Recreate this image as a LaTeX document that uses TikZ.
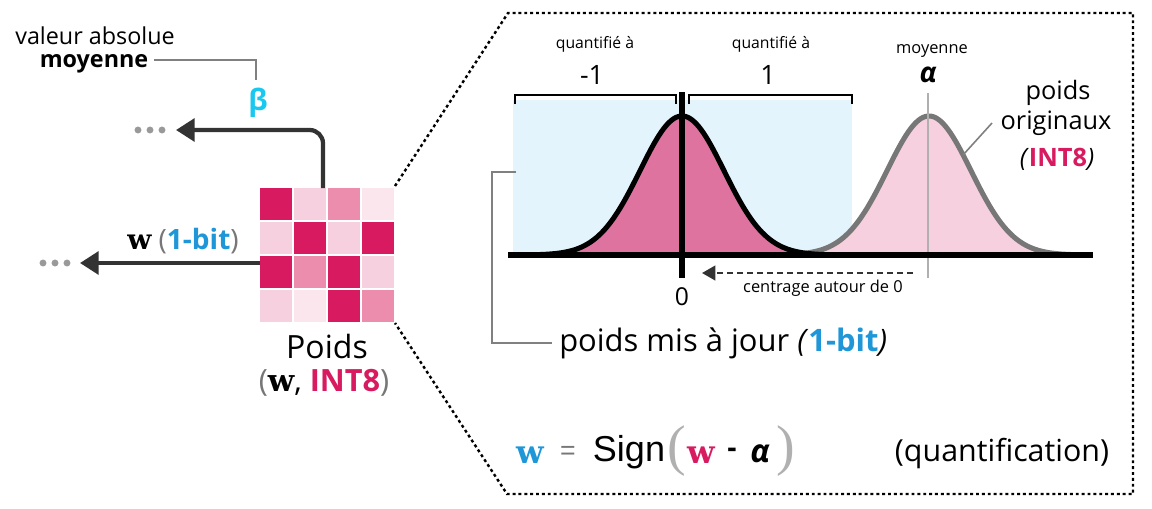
\documentclass[tikz,border=0pt]{standalone}
\usepackage[no-math]{fontspec}
\setmainfont{Open Sans}
\newfontfamily\formfont{Liberation Sans}
\newfontfamily\wfont{DejaVu Serif}
\newfontfamily\parfont{Liberation Serif}
\usetikzlibrary{arrows.meta}
\definecolor{dpink}{HTML}{D81B60}
\definecolor{mpink}{HTML}{EC8DAE}
\definecolor{lpink}{HTML}{F7D0DF}
\definecolor{vlpink}{HTML}{FCE6EE}
\definecolor{gpink}{HTML}{DF73A0}
\definecolor{lblue}{HTML}{E3F4FC}
\definecolor{bitblue}{HTML}{1E96D8}
\definecolor{betacyan}{HTML}{19C8F0}
\definecolor{arrdark}{HTML}{333333}
\definecolor{curvegray}{HTML}{777777}
\definecolor{leadgray}{HTML}{808080}
\definecolor{vgray}{HTML}{B0B0B0}
\definecolor{dotgray}{HTML}{999999}
\newcommand{\fsz}[1]{\fontsize{#1}{#1}\selectfont}
\newcommand{\bw}{{\wfont\bfseries w}}
\begin{document}
\begin{tikzpicture}[x=0.75pt,y=-0.75pt,
  txt/.style={inner sep=0pt,anchor=center},
  bigarr/.style={draw=arrdark,line width=3.2pt,-{Triangle[length=14pt,width=17pt]}},
  leader/.style={draw=leadgray,line width=0.9pt},
  dotbox/.style={draw=black,line width=1.8pt,dash pattern=on 2.2pt off 2.2pt},
  bracketline/.style={draw=black,line width=1.6pt},
  cell/.style={minimum size=24pt,inner sep=0pt,draw=none}]
\useasboundingbox (0,0) rectangle (1152,508);

% ---------- weight grid ----------
\foreach \r/\rowlist in {0/{dpink,lpink,mpink,vlpink},1/{lpink,dpink,lpink,dpink},2/{dpink,mpink,dpink,lpink},3/{lpink,vlpink,dpink,mpink}}{
  \foreach \col [count=\c from 0] in \rowlist {
    \node[cell,fill=\col] (cell\r\c) at ({276+34*\c},{204+34*\r}) {};
  }
}
\node[minimum size=100.5pt,inner sep=0pt] (grid) at (327,255) {};
\coordinate (gridNE) at (395,186);
\coordinate (gridSE) at (395,323);

% ---------- beta arrow ----------
\coordinate (bstart) at (323,188);
\coordinate (bend) at (176,130);
\draw[bigarr,rounded corners=10pt] (bstart) |- (bend);
\foreach \i/\xx in {1/138,2/150,3/162}{\fill[dotgray] (\xx,130) circle (2.6pt);}
\node[txt,text=betacyan,font=\bfseries\fsz{22}] (beta) at (258,103) {β};
\node[txt,font=\fsz{17.5}] (valabs) at (95,36) {valeur absolue};
\node[txt,font=\bfseries\fsz{17.5}] (moy) at (94,64) {moyenne};
\coordinate (lbA) at (256,60);
\coordinate (lbB) at (256,80);
\draw[leader] (moy.east) ++(6,-4) coordinate (lb0) -- (lbA) -- (lbB);

% ---------- w arrow ----------
\coordinate (wstart) at (260,263);
\coordinate (wend) at (80,263);
\draw[bigarr] (wstart) -- (wend);
\foreach \i/\xx in {1/43,2/55,3/67}{\fill[dotgray] (\xx,263) circle (2.6pt);}
\node[txt,font=\fsz{21}] (wlab) at (183,241) {\bw{} \textcolor{curvegray}{(}\textcolor{bitblue}{\bfseries 1-bit}\textcolor{curvegray}{)}};

\node[txt,font=\fsz{24}] (poids) at (327,346) {Poids};
\node[txt,font=\fsz{23}] (poidsint) at (324,383) {\textcolor{curvegray}{(}\bw, \textcolor{dpink}{\bfseries INT8}\textcolor{curvegray}{)}};

% ---------- dotted zoom frame ----------
\coordinate (fTL) at (508,13);
\coordinate (fTR) at (1133,13);
\coordinate (fBR) at (1133,494);
\coordinate (fBL) at (507,494);
\draw[dotbox] (gridNE) -- (fTL) -- (fTR) -- (fBR) -- (fBL) -- (gridSE);

% ---------- distributions ----------
\fill[lblue] (513,100) rectangle (852,255);
\fill[lpink] plot[domain=-3.6:3.6,samples=120] ({929+42*\x},{255-140*exp(-\x*\x/2)}) -- cycle;
\fill[gpink] plot[domain=-3.6:3.6,samples=120] ({682+42*\x},{255-140*exp(-\x*\x/2)}) -- cycle;
\draw[curvegray,line width=3.8pt] plot[domain=-3.6:3.6,samples=120] ({929+42*\x},{255-139*exp(-\x*\x/2)});
\draw[black,line width=3.8pt] plot[domain=-3.6:3.6,samples=120] ({682+42*\x},{255-139*exp(-\x*\x/2)});
\coordinate (alphaTop) at (928,93);
\coordinate (alphaBot) at (928,278);
\draw[vgray,line width=2.2pt] (alphaTop) -- (alphaBot);
\coordinate (zeroTop) at (682,92);
\coordinate (zeroBot) at (682,278);
\draw[black,line width=4.2pt] (zeroTop) -- (zeroBot);
\coordinate (axL) at (508,255);
\coordinate (axR) at (1093,255);
\draw[black,line width=4.6pt] (axL) -- (axR);

% brackets
\draw[bracketline] (515,104) -- (515,95) -- (676,95) -- (676,104);
\draw[bracketline] (689,104) -- (689,95) -- (852,95) -- (852,104);
\node[txt,font=\fsz{11.8}] (q1) at (595,44) {quantifié à};
\node[txt,font=\fsz{11.8}] (q2) at (771,44) {quantifié à};
\node[txt,font=\fsz{20}] (m1) at (592,75) {-1};
\node[txt,font=\fsz{20}] (p1) at (768,75) {1};
\node[txt,font=\fsz{12.3}] (moy2) at (932,51) {moyenne};
\node[txt,font=\bfseries\itshape\fsz{21}] (alpha) at (928,75) {α};

% original weights label
\node[txt,font=\fsz{19}] (po1) at (1058,93) {poids};
\node[txt,font=\fsz{19}] (po2) at (1056,123) {originaux};
\node[txt,font=\fsz{19}] (po3) at (1057,159) {\textit{(}\textcolor{dpink}{\bfseries INT8}\textit{)}};
\coordinate (olA) at (992,123);
\coordinate (olB) at (963,155);
\draw[leader,line width=1.2pt] (olA) -- (olB);

% centering arrow
\coordinate (cS) at (913,273);
\coordinate (cE) at (702,273);
\draw[arrdark,line width=1.6pt,dash pattern=on 4.5pt off 3pt,-{Triangle[length=10pt,width=11pt]}] (cS) -- (cE);
\node[txt,font=\fsz{12.3}] (cent) at (823,288) {centrage autour de 0};
\node[txt,font=\fsz{18.5}] (zero) at (682,297) {0};

% updated weights leader
\node[txt,font=\fsz{23.2},anchor=west] (pmaj) at (559,343) {poids mis à jour \textit{(}\textcolor{bitblue}{\bfseries 1-bit}\textit{)}};
\coordinate (ulA) at (516,172);
\coordinate (ulB) at (492,172);
\coordinate (ulC) at (492,343);
\coordinate (ulD) at (552,343);
\draw[leader,line width=1.3pt] (ulA) -- (ulB) -- (ulC) -- (ulD);

% formula
\node[txt,text=bitblue,font=\wfont\bfseries\fsz{24}] (fw1) at (530,455) {w};
\node[txt,text=curvegray,font=\formfont\fsz{20}] (feq) at (568,453) {=};
\node[txt,font=\formfont\fsz{27}] (fsign) at (629,452) {Sign};
\node[txt,text=vgray,font=\parfont\fsz{42}] (fpl) at (677,451) {(};
\node[txt,text=dpink,font=\wfont\bfseries\fsz{24}] (fw2) at (701,455) {w};
\node[txt,font=\formfont\bfseries\fsz{22}] (fminus) at (732,453) {-};
\node[txt,font=\bfseries\itshape\fsz{24}] (falpha) at (760,454) {α};
\node[txt,text=vgray,font=\parfont\fsz{42}] (fpr) at (786,451) {)};
\node[txt,font=\fsz{22.8}] (quant) at (1002,454) {(quantification)};
\end{tikzpicture}
\end{document}
